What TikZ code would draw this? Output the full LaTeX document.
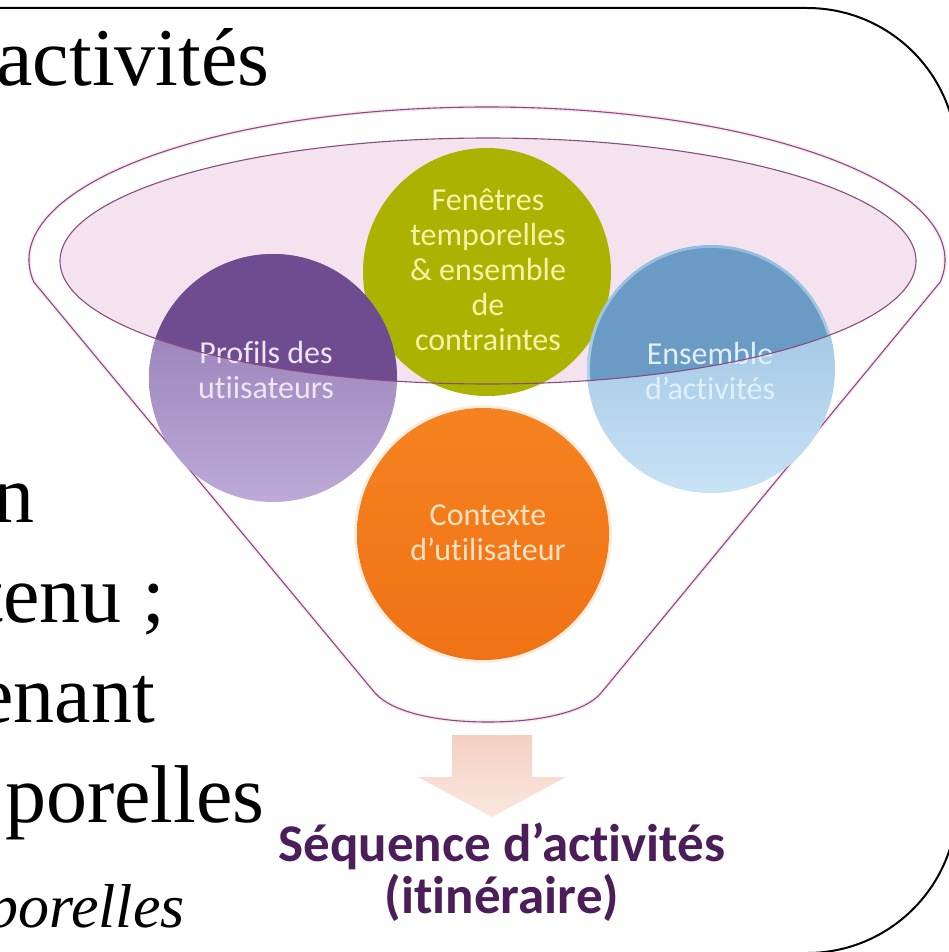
\documentclass[tikz,border=0pt]{standalone}
\usepackage{fontspec}
\setmainfont{Liberation Serif}
\newfontfamily\calfont[Ligatures=NoCommon]{Carlito}
\usetikzlibrary{shapes.geometric}

\definecolor{funnelline}{HTML}{8A4C7E}
\definecolor{funnelglow}{HTML}{F9E8F2}
\definecolor{ellfill}{HTML}{F4E3EE}
\definecolor{purpD}{HTML}{6F4B8F}
\definecolor{purpT}{HTML}{8E74B0}
\definecolor{purpB}{HTML}{BDAAD7}
\definecolor{blueD}{HTML}{6A9BC4}
\definecolor{blueT}{HTML}{93BCDF}
\definecolor{blueB}{HTML}{C8E2F5}
\definecolor{olive}{HTML}{AAB400}
\definecolor{orangeA}{HTML}{F58220}
\definecolor{orangeB}{HTML}{F07214}
\definecolor{orangeHalo}{HTML}{FCE2CA}
\definecolor{seqtext}{HTML}{4B1D59}
\definecolor{arrowA}{HTML}{F5D0C2}
\definecolor{arrowB}{HTML}{FAE7DF}
\definecolor{txtP}{HTML}{EEE6F5}
\definecolor{txtB}{HTML}{E0F0FA}
\definecolor{txtG}{HTML}{F4F3A8}
\definecolor{txtO}{HTML}{FDE3C4}

\newcommand{\funnelpath}{(375,693) -- (33.8,282) arc[start angle=171.73, end angle=368.27, x radius=458, y radius=153] -- (601,693) .. controls (585,712) and (540,722) .. (488,722) .. controls (436,722) and (392,712) .. (375,693) -- cycle}
\newcommand{\innerell}{(488,261) ellipse [x radius=428, y radius=123]}

\begin{document}
\begin{tikzpicture}[x=1pt,y=-1pt,
  bubble/.style={circle, minimum size=248pt, inner sep=0pt},
  btext/.style={font=\calfont\fontsize{32}{35}\selectfont, align=center, inner sep=0pt},
  bgtext/.style={font=\fontsize{82}{90}\selectfont, anchor=base east, inner sep=0pt},
  seqstyle/.style={font=\calfont\bfseries\fontsize{53}{56}\selectfont, text=seqtext, anchor=base, inner sep=0pt},
]
\useasboundingbox (0,0) rectangle (949,952);
\clip (0,0) rectangle (949,952);

% frame
\draw[line width=2pt, rounded corners=150pt] (-20,8) -- (957,8) -- (957,953) -- (-20,953);

% background text
\node[bgtext] (t1) at (270,86) {activités};
\node[bgtext] (t2) at (35,522) {n};
\node[bgtext] (t3) at (165,622) {tenu ;};
\node[bgtext] (t4) at (155,722) {enant};
\node[bgtext] (t5) at (265,822) {porelles};
\node[bgtext, font=\itshape\fontsize{62}{70}\selectfont] (t6) at (185,927) {porelles};

% funnel
\fill[white] \funnelpath;
\draw[funnelglow, line width=4pt] \funnelpath;
\draw[funnelline, line width=1.1pt] \funnelpath;

% inner ellipse fill
\fill[ellfill] \innerell;

% circles
\node[bubble, fill=olive] (fen) at (487,272) {};

\node[bubble, top color=purpT, bottom color=purpB] (prof) at (273,378) {};
\begin{scope}
  \clip \innerell;
  \fill[purpD] (prof.center) circle[radius=124];
\end{scope}

\node[bubble, top color=blueT, bottom color=blueB] (ens) at (711,369) {};
\begin{scope}
  \clip \innerell;
  \fill[blueD] (ens.center) circle[radius=121];
\end{scope}

\fill[orangeHalo, opacity=0.6] (483,534) circle[radius=129];
\node[bubble, top color=orangeA, bottom color=orangeB, minimum size=252pt] (ctx) at (483,534) {};

% circle texts
\node[btext, text=txtG] (fentxt) at (488,270) {Fenêtres\\temporelles\\\& ensemble\\de\\contraintes};
\node[btext, text=txtP] (proftxt) at (266,370) {Profils des\\utiisateurs};
\node[btext, text=txtB] (enstxt) at (710,371) {Ensemble\\d’activités};
\node[btext, text=txtO] (ctxtxt) at (488,533) {Contexte\\d’utilisateur};

% ellipse outline on top
\draw[funnelline, line width=1.1pt] \innerell;

% arrow
\shade[top color=arrowA, bottom color=arrowB] (452,735) -- (532,735) -- (532,777) -- (566,777) -- (492,817) -- (418,777) -- (452,777) -- cycle;

% result text
\node[seqstyle] (seq1) at (502,861) {Séquence d’activités};
\node[seqstyle] (seq2) at (502,913) {(itinéraire)};
\end{tikzpicture}
\end{document}
